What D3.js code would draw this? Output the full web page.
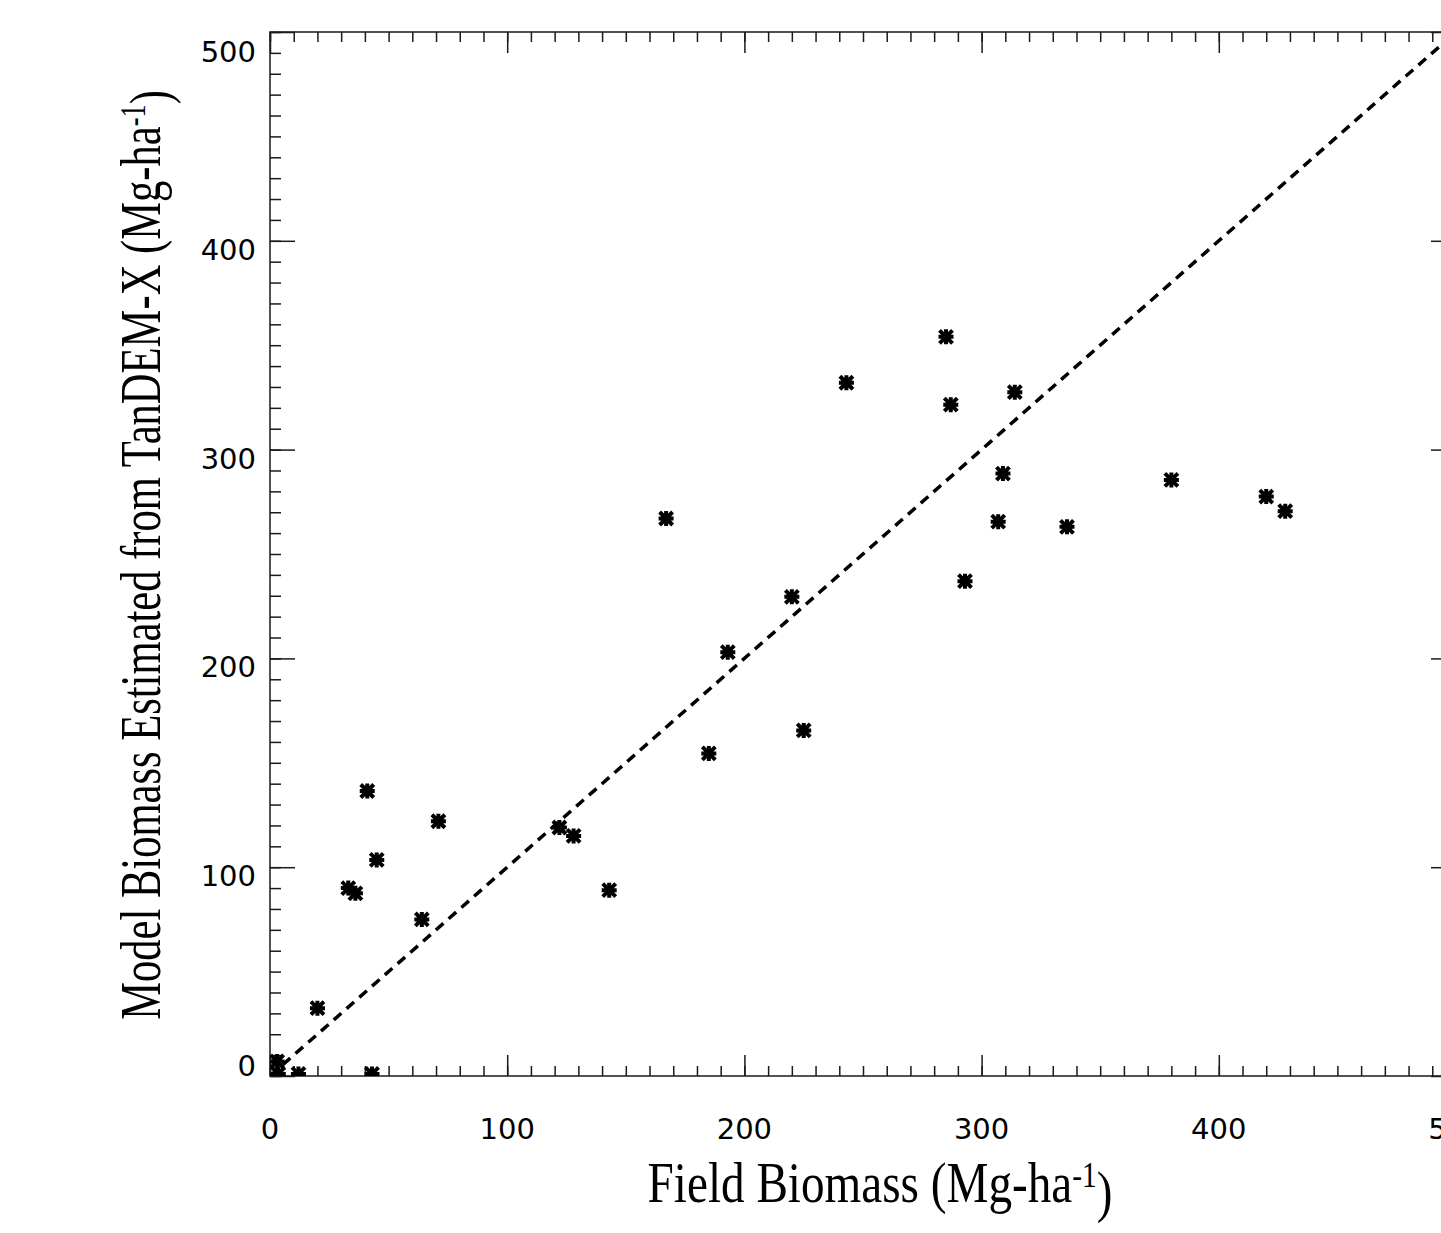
<!DOCTYPE html>
<html>
<head>
<meta charset="utf-8">
<script src="https://cdn.jsdelivr.net/npm/d3@7"></script>
<style>
  body { margin: 0; background: #fff; }
  svg { display: block; }
</style>
</head>
<body>
<svg id="chart" width="1441" height="1233"></svg>
<script>
// Field vs. model biomass (Mg/ha)
const fieldBiomass = [3, 3.5, 12, 43, 20, 33, 36, 41, 45, 64, 71, 122, 128, 143,
    167, 185, 193, 220, 225, 243, 285, 287, 314, 309, 307, 293, 336, 380, 420, 428];
const modelBiomass = [7, 1, 1, 1, 32.5, 90, 87.5, 136.5, 103.5, 75, 122, 119, 115, 89,
    267, 154.5, 203, 229.5, 165.5, 332, 354, 321.5, 327.5, 288.5, 265.5, 237, 263, 285.5, 277.5, 270.5];

const xTicks = [0, 100, 200, 300, 400, 500];
const yTicks = [0, 100, 200, 300, 400, 500];
const minorTicks = d3.range(0, 501, 10);

const svg = d3.select("#chart");
const axisColor = "#1a1a1a";

// Plot box (right edge falls just outside the window, as in the reference)
const x = d3.scaleLinear().domain([0, 500]).range([270, 1456]);
const y = d3.scaleLinear().domain([0, 500]).range([1076, 32]);

svg.append("rect")
    .attr("width", 1441).attr("height", 1233).attr("fill", "#fff");

svg.append("defs").append("clipPath").attr("id", "plot-clip")
    .append("rect")
    .attr("x", x(0)).attr("y", y(500))
    .attr("width", x(500) - x(0)).attr("height", y(0) - y(500));

// Frame
svg.append("rect")
    .attr("x", x(0)).attr("y", y(500))
    .attr("width", x(500) - x(0)).attr("height", y(0) - y(500))
    .attr("fill", "none")
    .attr("stroke", axisColor)
    .attr("stroke-width", 1.5);

// Inward ticks on all four sides, minor every 10, major every 100
function ticks(axis, transform) {
    const g = svg.append("g").attr("transform", transform).call(axis);
    g.select(".domain").remove();
    g.selectAll("line").attr("stroke", axisColor).attr("stroke-width", 1.5);
    g.selectAll("text").remove();
}
ticks(d3.axisBottom(x).tickValues(minorTicks).tickSize(-10).tickSizeOuter(0), `translate(0,${y(0)})`);
ticks(d3.axisBottom(x).tickValues(xTicks).tickSize(-21).tickSizeOuter(0), `translate(0,${y(0)})`);
ticks(d3.axisTop(x).tickValues(minorTicks).tickSize(-10).tickSizeOuter(0), `translate(0,${y(500)})`);
ticks(d3.axisTop(x).tickValues(xTicks).tickSize(-21).tickSizeOuter(0), `translate(0,${y(500)})`);
ticks(d3.axisLeft(y).tickValues(minorTicks).tickSize(-11).tickSizeOuter(0), `translate(${x(0)},0)`);
ticks(d3.axisLeft(y).tickValues(yTicks).tickSize(-25).tickSizeOuter(0), `translate(${x(0)},0)`);
ticks(d3.axisRight(y).tickValues(minorTicks).tickSize(-11).tickSizeOuter(0), `translate(${x(500)},0)`);
ticks(d3.axisRight(y).tickValues(yTicks).tickSize(-25).tickSizeOuter(0), `translate(${x(500)},0)`);

// Tick labels ("500" on the x axis is cut by the window edge, as in the reference)
svg.append("g").selectAll("text")
    .data(xTicks)
    .enter().append("text")
    .attr("x", d => x(d))
    .attr("y", 1139)
    .attr("text-anchor", "middle")
    .style("font-family", "'DejaVu Sans', sans-serif")
    .style("font-size", "29px")
    .attr("fill", "#000")
    .text(d => d);

svg.append("g").selectAll("text")
    .data(yTicks)
    .enter().append("text")
    .attr("x", 256)
    .attr("y", d => y(d) + (d === 0 ? 0 : d === 500 ? 30 : 19))
    .attr("text-anchor", "end")
    .style("font-family", "'DejaVu Sans', sans-serif")
    .style("font-size", "29px")
    .attr("fill", "#000")
    .text(d => d);

// 1:1 line
svg.append("line")
    .attr("clip-path", "url(#plot-clip)")
    .attr("x1", x(0)).attr("y1", y(0))
    .attr("x2", x(500)).attr("y2", y(500))
    .attr("stroke", "#000")
    .attr("stroke-width", 3.5)
    .attr("stroke-dasharray", "10,7");

// Asterisk markers (plus + cross)
const r = 7.5, dg = 6.5;
const star = `M${-r},0H${r}M0,${-r}V${r}M${-dg},${-dg}L${dg},${dg}M${-dg},${dg}L${dg},${-dg}`;
svg.append("g")
    .attr("clip-path", "url(#plot-clip)")
    .selectAll("path")
    .data(fieldBiomass.map((f, i) => [f, modelBiomass[i]]))
    .enter().append("path")
    .attr("transform", d => `translate(${x(d[0])},${y(d[1])})`)
    .attr("d", star)
    .attr("fill", "none")
    .attr("stroke", "#000")
    .attr("stroke-width", 4);

// Axis titles: tall Times-like lettering, squeezed to the reference width
function title(parent) {
    return parent.append("text")
        .attr("text-anchor", "middle")
        .style("font-family", "'Liberation Serif', 'Times New Roman', serif")
        .style("font-size", "58px")
        .attr("fill", "#000");
}
function unitLabel(t, prefix) {
    t.append("tspan").text(prefix + " (Mg-ha");
    t.append("tspan").attr("dy", "-0.42em").style("font-size", "36px").text("-1");
    t.append("tspan").attr("dy", "0.42em").text(")");
}

const xTitleG = svg.append("g");
const xTitle = title(xTitleG);
unitLabel(xTitle, "Field Biomass");
const xLen = xTitle.node().getComputedTextLength();
xTitleG.attr("transform", `translate(880,1202) scale(${465 / xLen},1)`);

const yTitleG = svg.append("g");
const yTitle = title(yTitleG);
unitLabel(yTitle, "Model Biomass Estimated from TanDEM-X");
const yLen = yTitle.node().getComputedTextLength();
yTitleG.attr("transform", `translate(160,555) rotate(-90) scale(${930 / yLen},1)`);
</script>
</body>
</html>
